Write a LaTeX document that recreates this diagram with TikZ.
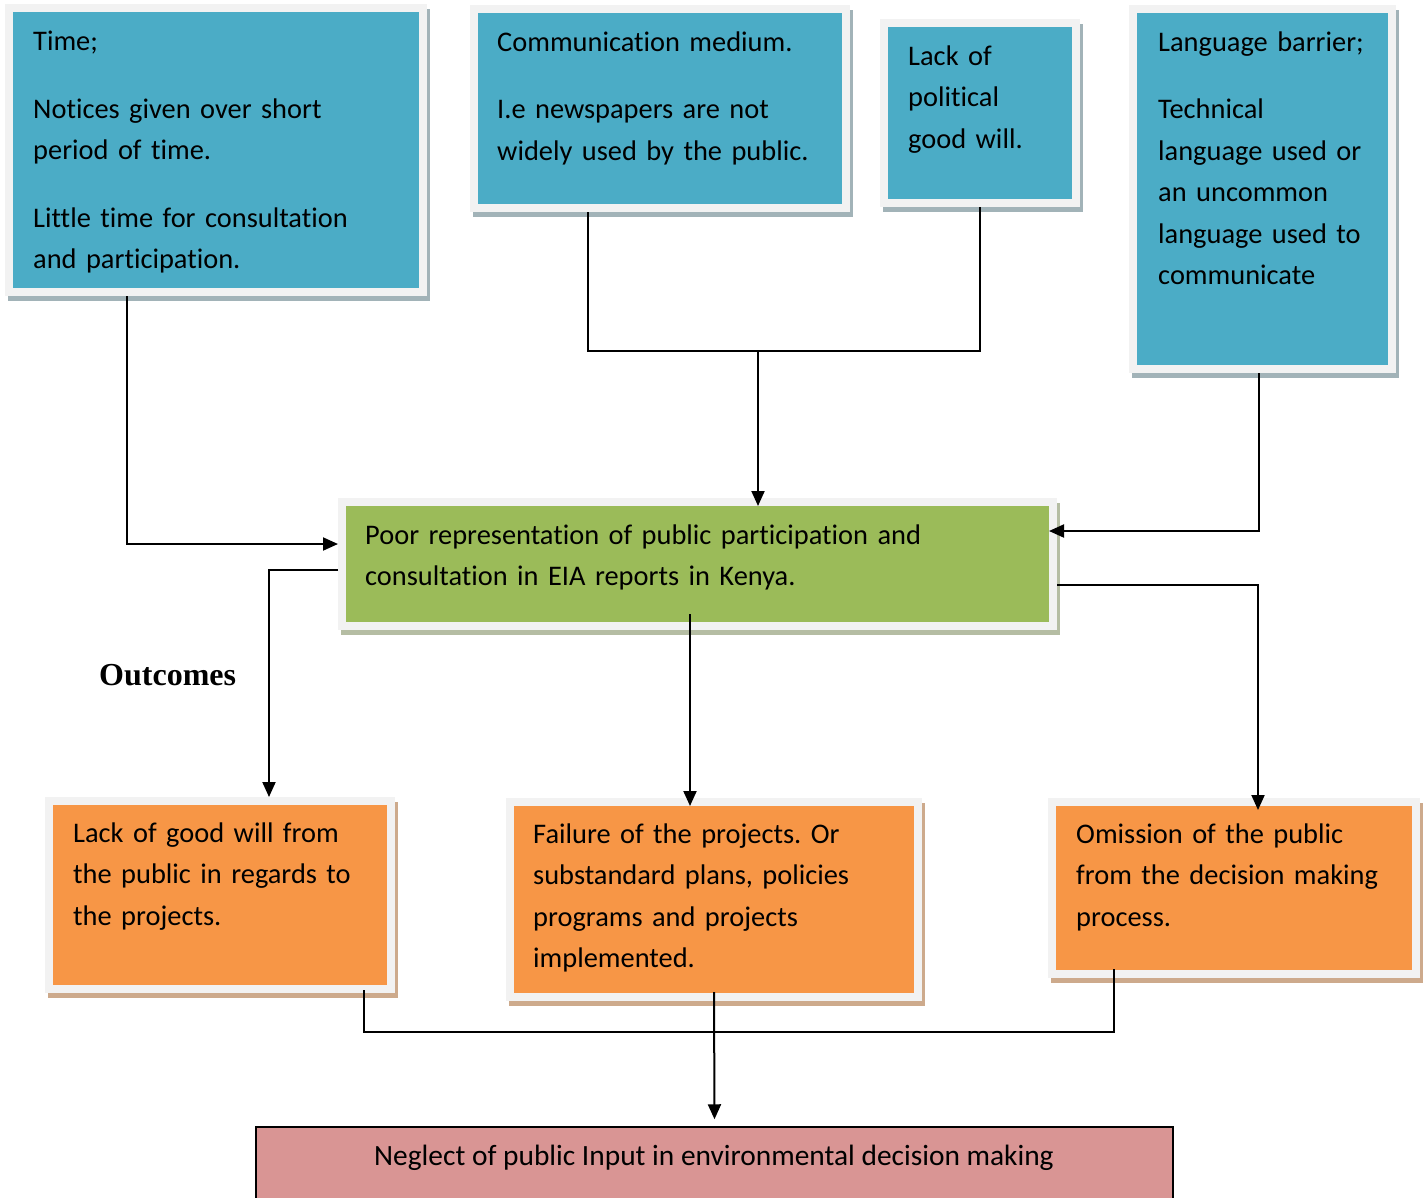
\documentclass[tikz,border=0pt]{standalone}
\usepackage{fontspec}
\setmainfont[Ligatures=CommonOff]{Carlito}
\newfontfamily\serifbold{Liberation Serif}
\usetikzlibrary{arrows.meta}
\definecolor{cblue}{HTML}{4BACC6}
\definecolor{cgreen}{HTML}{9BBB59}
\definecolor{corange}{HTML}{F79646}
\definecolor{cpink}{HTML}{D99594}
\definecolor{framegray}{HTML}{F2F2F2}
\definecolor{shblue}{HTML}{A2B3B8}
\definecolor{shgreen}{HTML}{B5BDA3}
\definecolor{shorange}{HTML}{CDAA8C}
\tikzset{
  boxbase/.style={rectangle, inner sep=0pt, outer sep=4pt, line width=8pt, draw=framegray},
  shadowed/.style={preaction={fill=#1, draw=#1, line width=8pt, transform canvas={shift={(3pt,-5pt)}}}},
  bluebox/.style={boxbase, fill=cblue, shadowed=shblue},
  greenbox/.style={boxbase, fill=cgreen, shadowed=shgreen},
  orangebox/.style={boxbase, fill=corange, shadowed=shorange},
  pinkbox/.style={rectangle, inner sep=0pt, draw=black, line width=1.5pt, fill=cpink},
  txt/.style={anchor=base west, align=left, text width=760pt, inner sep=0pt,
    font=\fontsize{28.4pt}{41.5pt}\selectfont},
  conn/.style={line width=2pt, draw=black},
  arr/.style={conn, -{Triangle[length=15pt,width=13pt]}},
}
\begin{document}
\frenchspacing
\begin{tikzpicture}[x=1pt, y=-1pt]
\useasboundingbox (0,0) rectangle (1423,1197);
\clip (0,0) rectangle (1423,1197);
% boxes (frame midlines)
\node[bluebox, minimum width=414pt, minimum height=284pt] (A) at (216,150) {};
\node[bluebox, minimum width=372pt, minimum height=199pt] (B) at (660,108.5) {};
\node[bluebox, minimum width=192pt, minimum height=180pt] (C) at (980,113) {};
\node[bluebox, minimum width=259pt, minimum height=360pt] (D) at (1262.5,189) {};
\node[greenbox, minimum width=711pt, minimum height=124pt] (G) at (697.5,564) {};
\node[orangebox, minimum width=342pt, minimum height=188pt] (L) at (220,895) {};
\node[orangebox, minimum width=408pt, minimum height=195pt] (M) at (714,899.5) {};
\node[orangebox, minimum width=364pt, minimum height=172pt] (R) at (1234,888) {};
\node[pinkbox, minimum width=917pt, minimum height=110pt] (P) at (714.5,1182) {};
% texts
\node[txt] (tA) at (33,50) {Time;\\[26.5pt]Notices given over short\\period of time.\\[26pt]Little time for consultation\\and participation.};
\node[txt] (tB) at (497,51) {Communication medium.\\[26pt]I.e newspapers are not\\widely used by the public.};
\node[txt] (tC) at (908,65) {Lack of\\political\\good will.};
\node[txt] (tD) at (1158,51) {Language barrier;\\[26pt]Technical\\language used or\\an uncommon\\language used to\\communicate};
\node[txt] (tG) at (365,544) {Poor representation of public participation and\\consultation in EIA reports in Kenya.};
\node[txt] (tL) at (73,842) {Lack of good will from\\the public in regards to\\the projects.};
\node[txt] (tM) at (533,843) {Failure of the projects. Or\\substandard plans, policies\\programs and projects\\implemented.};
\node[txt] (tR) at (1076,843) {Omission of the public\\from the decision making\\process.};
\node[anchor=base, inner sep=0pt, font=\fontsize{29.4pt}{35pt}\selectfont] (tP) at (714,1165) {Neglect of public Input in environmental decision making};
\node[anchor=base west, inner sep=0pt, font=\serifbold\bfseries\fontsize{32pt}{38pt}\selectfont] (out) at (99,685) {Outcomes};
% junction coordinates
\coordinate (jBC) at (758,351);
\coordinate (jLR) at (714,1032);
\coordinate (gtop) at ([yshift=-8pt]G.north);
% connectors into G
\draw[arr] ([xshift=-89pt]A.south) |- ([yshift=20pt]G.west);
\draw[conn] ([xshift=-72pt]B.south) |- (jBC) -| (C.south);
\draw[arr] (jBC) -- (gtop -| jBC);
\draw[arr] ([xshift=-4pt]D.south) |- ([xshift=-8pt,yshift=33pt]G.east);
% connectors out of G
\draw[arr] ([yshift=-6pt]G.west) -| ([xshift=49pt]L.north);
\draw[arr] ([xshift=-7.5pt,yshift=16pt]G.south) -- ([xshift=-24pt,yshift=-8pt]M.north);
\draw[arr] ([yshift=-21pt]G.east) -| ([xshift=24pt,yshift=-12pt]R.north);
% outcomes to P
\draw[conn] ([xshift=144pt,yshift=3pt]L.south) |- (jLR) -| ([xshift=-120pt,yshift=9pt]R.south);
\draw[arr] ([yshift=9pt]M.south) -- ([yshift=7pt]P.north);
\end{tikzpicture}
\end{document}
